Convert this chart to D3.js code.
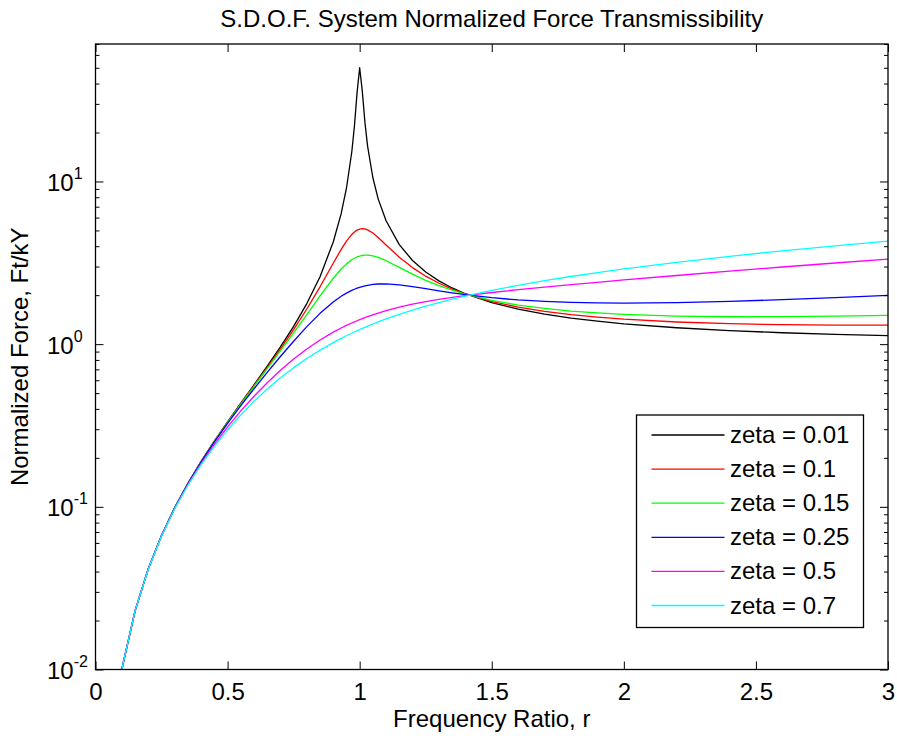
<!DOCTYPE html>
<html>
<head>
<meta charset="utf-8">
<script src="https://cdn.jsdelivr.net/npm/d3@7"></script>
<style>
  html, body { margin: 0; padding: 0; background: #fff; }
  svg { display: block; font-family: "Liberation Sans", Arial, Helvetica, sans-serif; }
</style>
</head>
<body>
<svg id="chart" width="897" height="736"></svg>
<script>
// ---- data ----
const titleText = "S.D.O.F. System Normalized Force Transmissibility";
const xLabelText = "Frequency Ratio, r";
const yLabelText = "Normalized Force, Ft/kY";

const r = [0.1,0.15,0.2,0.25,0.3,0.35,0.4,0.45,0.5,0.55,0.6,0.65,0.7,0.75,0.8,0.85,0.9,0.93,0.95,0.97,0.98,0.99,1.0,1.01,1.02,1.03,1.05,1.07,1.1,1.15,1.2,1.25,1.3,1.35,1.4,1.5,1.6,1.7,1.8,1.9,2.0,2.2,2.4,2.6,2.8,3.0];

const zeta001 = [0.0101,0.0230,0.0417,0.0667,0.0989,0.1396,0.1905,0.2539,0.3333,0.4337,0.5625,0.7316,0.9608,1.2857,1.7763,2.5990,4.2479,6.3432,9.0873,15.130,21.742,34.92,50.01,35.81,22.995,16.506,10.540,7.8183,5.7319,4.0914,3.2688,2.7759,2.4484,2.2154,2.0416,1.8003,1.6415,1.5297,1.4472,1.3840,1.3343,1.2616,1.2114,1.1752,1.1479,1.1270];
const zeta01 = [0.0101,0.0230,0.0417,0.0667,0.0989,0.1395,0.1902,0.2533,0.3321,0.4310,0.5568,0.7197,0.9355,1.2298,1.6452,2.2519,3.1446,3.8268,4.3017,4.7260,4.8944,5.0208,5.0990,5.1267,5.1059,5.0424,4.8209,4.5303,4.0736,3.4258,2.9547,2.6165,2.3682,2.1807,2.0354,1.8274,1.6879,1.5896,1.5178,1.4642,1.4235,1.3681,1.3355,1.3175,1.3093,1.3082];
const zeta015 = [0.0101,0.0230,0.0417,0.0666,0.0988,0.1394,0.1899,0.2526,0.3305,0.4278,0.5502,0.7062,0.9078,1.1720,1.5212,1.9784,2.5413,2.8967,3.1155,3.3001,3.3745,3.4348,3.4801,3.5101,3.5250,3.5257,3.4895,3.4142,3.2575,2.9623,2.6921,2.4684,2.2887,2.1447,2.0288,1.8572,1.7398,1.6572,1.5981,1.5554,1.5247,1.4884,1.4743,1.4750,1.4857,1.5041];
const zeta025 = [0.0101,0.0230,0.0417,0.0666,0.0987,0.1390,0.1890,0.2505,0.3260,0.4184,0.5318,0.6704,0.8393,1.0426,1.2809,1.5467,1.8184,1.9698,2.0605,2.1403,2.1756,2.2075,2.2361,2.2612,2.2828,2.3011,2.3279,2.3426,2.3456,2.3140,2.2570,2.1913,2.1263,2.0666,2.0137,1.9294,1.8700,1.8303,1.8057,1.7927,1.7889,1.8013,1.8329,1.8777,1.9319,1.9934];
const zeta05 = [0.0101,0.0230,0.0416,0.0664,0.0981,0.1374,0.1852,0.2425,0.3101,0.3887,0.4786,0.5796,0.6906,0.8098,0.9343,1.0605,1.1847,1.2568,1.3035,1.3489,1.3710,1.3928,1.4142,1.4352,1.4559,1.4761,1.5153,1.5529,1.6063,1.6875,1.7599,1.8247,1.8833,1.9369,1.9865,2.0774,2.1615,2.2423,2.3217,2.4009,2.4807,2.6429,2.8093,2.9798,3.1539,3.3311];
const zeta07 = [0.0101,0.0230,0.0415,0.0662,0.0974,0.1357,0.1816,0.2355,0.2975,0.3675,0.4452,0.5300,0.6210,0.7170,0.8168,0.9191,1.0226,1.0847,1.1261,1.1674,1.1879,1.2085,1.2289,1.2493,1.2696,1.2899,1.3302,1.3702,1.4295,1.5265,1.6211,1.7133,1.8031,1.8906,1.9761,2.1414,2.3006,2.4549,2.6053,2.7528,2.8981,3.1840,3.4657,3.7451,4.0232,4.3005];

const seriesNames = ["zeta = 0.01","zeta = 0.1","zeta = 0.15","zeta = 0.25","zeta = 0.5","zeta = 0.7"];
const seriesValues = [zeta001, zeta01, zeta015, zeta025, zeta05, zeta07];
const seriesColors = ["#000000","#ff0000","#00ff00","#0000ff","#ff00ff","#00ffff"];

const xTicks = [0,0.5,1,1.5,2,2.5,3];
const xTickLabels = ["0","0.5","1","1.5","2","2.5","3"];
const yTicks = [0.01,0.1,1,10];
const yTickExponents = ["-2","-1","0","1"];
const yMinorTicks = [0.02,0.03,0.04,0.05,0.06,0.07,0.08,0.09,0.2,0.3,0.4,0.5,0.6,0.7,0.8,0.9,2,3,4,5,6,7,8,9,20,30,40,50,60,70];

// ---- layout ----
const svg = d3.select("#chart");
const L = 95.5, R = 888, T = 44, B = 669.5;
const fs = 24;

const x = d3.scaleLinear().domain([0,3]).range([L,R]);
const y = d3.scaleLog().domain([0.01,70]).range([B,T]);

svg.append("defs").append("clipPath").attr("id","clip")
  .append("rect").attr("x",L).attr("y",T).attr("width",R-L).attr("height",B-T);

svg.append("rect").attr("x",L).attr("y",T).attr("width",R-L).attr("height",B-T).attr("fill","#fff");

// lines
const line = d3.line().x((d,i)=>x(r[i])).y(d=>y(d));
const gLines = svg.append("g").attr("clip-path","url(#clip)");
seriesValues.forEach((vals,k)=>{
  gLines.append("path").attr("d", line(vals))
    .attr("fill","none").attr("stroke",seriesColors[k]).attr("stroke-width",1.3)
    .attr("stroke-linejoin","round");
});

// axes (ticks inward, on all four sides)
const axStyle = g => {
  g.select(".domain").remove();
  g.selectAll(".tick line").attr("stroke","#000").attr("stroke-width",1);
};
svg.append("g").attr("transform",`translate(0,${B})`)
  .call(d3.axisBottom(x).tickValues(xTicks).tickSize(-8).tickPadding(13).tickFormat((d,i)=>xTickLabels[i]))
  .call(axStyle)
  .call(g=>g.selectAll("text").attr("font-size",fs).attr("font-family","Liberation Sans, Arial, sans-serif").attr("fill","#000"));
svg.append("g").attr("transform",`translate(0,${T})`)
  .call(d3.axisTop(x).tickValues(xTicks).tickSize(-8).tickFormat(""))
  .call(axStyle);
svg.append("g").attr("transform",`translate(${L},0)`)
  .call(d3.axisLeft(y).tickValues(yTicks).tickSize(-8).tickFormat(""))
  .call(axStyle);
svg.append("g").attr("transform",`translate(${L},0)`)
  .call(d3.axisLeft(y).tickValues(yMinorTicks).tickSize(-4).tickFormat(""))
  .call(axStyle);
svg.append("g").attr("transform",`translate(${R},0)`)
  .call(d3.axisRight(y).tickValues(yTicks).tickSize(-8).tickFormat(""))
  .call(axStyle);
svg.append("g").attr("transform",`translate(${R},0)`)
  .call(d3.axisRight(y).tickValues(yMinorTicks).tickSize(-4).tickFormat(""))
  .call(axStyle);

// y tick labels 10^n
yTicks.forEach((v,i)=>{
  const t = svg.append("text").attr("x",47).attr("y",y(v)+9.5)
    .attr("font-size",fs).attr("fill","#000");
  t.append("tspan").text("10");
  t.append("tspan").attr("dy",-12).attr("font-size",16).text(yTickExponents[i]);
});

// box
svg.append("rect").attr("x",L).attr("y",T).attr("width",R-L).attr("height",B-T)
  .attr("fill","none").attr("stroke","#000").attr("stroke-width",1.3);

// title & labels
svg.append("text").attr("x",(L+R)/2).attr("y",27).attr("text-anchor","middle")
  .attr("font-size",fs).attr("fill","#000").text(titleText);
svg.append("text").attr("x",(L+R)/2).attr("y",727).attr("text-anchor","middle")
  .attr("font-size",fs).attr("fill","#000").text(xLabelText);
svg.append("text").attr("transform",`translate(28,${(T+B)/2}) rotate(-90)`).attr("text-anchor","middle")
  .attr("font-size",fs).attr("fill","#000").text(yLabelText);

// legend
const lg = svg.append("g");
lg.append("rect").attr("x",636.5).attr("y",415).attr("width",227).attr("height",212.5)
  .attr("fill","#fff").attr("stroke","#000").attr("stroke-width",1.3);
seriesNames.forEach((name,k)=>{
  const cy = 435 + k*34.1;
  lg.append("line").attr("x1",651.5).attr("x2",724.5).attr("y1",cy).attr("y2",cy)
    .attr("stroke",seriesColors[k]).attr("stroke-width",1.3);
  lg.append("text").attr("x",730).attr("y",cy+8).attr("font-size",fs).attr("fill","#000").text(name);
});
</script>
</body>
</html>
